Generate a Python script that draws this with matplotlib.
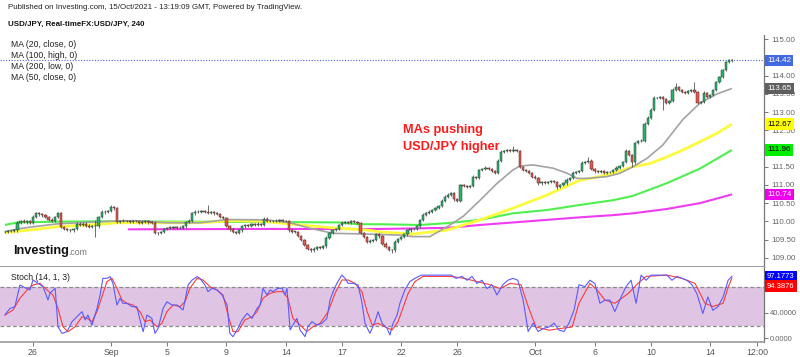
import matplotlib
matplotlib.use("Agg")
import matplotlib.pyplot as plt
import matplotlib.transforms as mtrans
import numpy as np

plt.rcParams['font.family'] = ['Liberation Sans', 'DejaVu Sans']

# ---------------- data ----------------
first_bar = -9          # bar number of the first candle (bar 0 = 26 Aug 00:00)
first_open = 109.70
closes = [
    109.71, 109.73, 109.74, 109.75, 109.96, 110.02, 109.98, 110.00, 109.96, 110.12,
    110.22, 110.19, 110.17, 110.12, 110.05, 110.02, 110.12, 110.22, 109.85, 109.78,
    109.76, 109.75, 109.80, 109.93, 109.90, 109.94, 109.88, 109.84, 109.86, 109.86,
    110.12, 110.25, 110.27, 110.28, 110.39, 110.36, 109.98, 110.00, 110.02, 110.00,
    109.98, 110.01, 110.00, 109.96, 109.98, 110.00, 109.98, 109.96, 109.69, 109.67,
    109.71, 109.80, 109.83, 109.82, 109.84, 109.81, 109.83, 109.86, 109.98, 110.02,
    110.22, 110.27, 110.25, 110.28, 110.27, 110.23, 110.25, 110.22, 110.20, 110.12,
    110.09, 109.88, 109.78, 109.71, 109.69, 109.76, 109.86, 109.90, 109.88, 109.92,
    109.90, 109.93, 109.91, 110.07, 110.02, 110.00, 110.02, 110.00, 110.03, 110.01,
    110.00, 109.75, 109.71, 109.71, 109.59, 109.49, 109.35, 109.25, 109.20, 109.25,
    109.30, 109.28, 109.32, 109.54, 109.67, 109.76, 109.80, 109.90, 109.96, 109.98,
    109.96, 110.00, 109.98, 109.96, 109.69, 109.57, 109.44, 109.47, 109.49, 109.64,
    109.59, 109.39, 109.30, 109.22, 109.20, 109.44, 109.52, 109.57, 109.64, 109.75,
    109.78, 109.80, 109.86, 110.03, 110.17, 110.22, 110.27, 110.31, 110.36, 110.41,
    110.56, 110.67, 110.73, 110.77, 110.60, 110.56, 110.99, 110.96, 110.94, 110.97,
    111.21, 111.18, 111.41, 111.43, 111.47, 111.43, 111.38, 111.33, 111.67, 111.91,
    111.93, 111.96, 111.94, 111.97, 111.93, 111.49, 111.41, 111.38, 111.33, 111.23,
    111.18, 111.04, 111.07, 111.06, 111.09, 111.11, 111.07, 110.94, 110.99, 111.04,
    111.14, 111.18, 111.33, 111.35, 111.38, 111.60, 111.62, 111.67, 111.43, 111.38,
    111.35, 111.37, 111.33, 111.35, 111.36, 111.41, 111.47, 111.52, 111.62, 111.93,
    111.82, 111.62, 112.15, 112.20, 112.22, 112.68, 112.85, 113.07, 113.39, 113.39,
    113.41, 113.36, 113.26, 113.31, 113.60, 113.68, 113.60, 113.55, 113.53, 113.57,
    113.60, 113.55, 113.26, 113.28, 113.53, 113.43, 113.47, 113.60, 113.82, 113.96,
    114.15, 114.37, 114.42, 114.42,
]
# wick lengths in pips (0.01 JPY) above / below the body
upper_wick = [
    3, 3, 2, 4, 5, 3, 4, 3, 3, 5,   4, 5, 3, 3, 4, 3, 4, 5, 3, 3,
    3, 2, 3, 5, 4, 3, 3, 4, 3, 17,  4, 5, 3, 4, 5, 4, 3, 3, 4, 3,
    3, 4, 3, 3, 5, 4, 3, 3, 4, 3,   3, 3, 2, 3, 4, 3, 3, 4, 4, 5,
    5, 4, 3, 4, 3, 19, 4, 3, 3, 3,  3, 3, 3, 3, 2, 3, 4, 3, 3, 3,
    3, 4, 3, 5, 4, 3, 3, 4, 3, 3,   4, 3, 4, 3, 3, 3, 3, 3, 3, 4,
    3, 3, 4, 5, 4, 4, 3, 4, 5, 3,   3, 4, 3, 3, 3, 3, 3, 4, 3, 5,
    3, 3, 3, 3, 3, 4, 3, 3, 4, 4,   3, 3, 4, 4, 5, 3, 4, 3, 4, 4,
    5, 4, 4, 4, 3, 3, 4, 3, 3, 3,   5, 3, 4, 4, 4, 3, 3, 3, 4, 5,
    4, 4, 3, 10, 3, 3, 4, 3, 3, 3,  3, 3, 4, 3, 3, 3, 3, 3, 3, 4,
    4, 3, 4, 3, 4, 5, 4, 10, 3, 3,  3, 4, 3, 3, 3, 4, 4, 4, 5, 6,
    4, 3, 4, 4, 3, 5, 4, 4, 5, 3,   4, 3, 3, 3, 5, 12, 3, 3, 3, 4,
    3, 23, 3, 3, 4, 3, 3, 4, 4, 4,  4, 4, 4, 3,
]
lower_wick = [
    3, 3, 3, 3, 4, 3, 3, 4, 3, 3,   3, 3, 4, 3, 3, 4, 3, 3, 4, 3,
    3, 3, 3, 3, 4, 3, 3, 3, 3, 29,  3, 3, 4, 3, 3, 4, 3, 3, 3, 3,
    3, 3, 3, 4, 3, 3, 4, 3, 5, 4,   3, 3, 3, 3, 3, 3, 3, 3, 4, 3,
    3, 4, 3, 3, 3, 3, 3, 4, 3, 3,   3, 4, 4, 3, 4, 3, 4, 3, 3, 3,
    3, 3, 3, 3, 3, 3, 3, 3, 3, 3,   3, 3, 4, 3, 3, 4, 4, 4, 4, 5,
    4, 3, 3, 4, 3, 3, 3, 3, 3, 3,   3, 3, 3, 3, 4, 4, 4, 3, 3, 3,
    4, 4, 4, 4, 7, 3, 3, 3, 3, 3,   3, 3, 3, 3, 3, 3, 3, 3, 3, 3,
    3, 3, 3, 3, 4, 3, 4, 3, 3, 3,   3, 3, 3, 3, 3, 3, 3, 3, 3, 3,
    3, 3, 3, 3, 3, 3, 4, 3, 3, 3,   3, 4, 3, 3, 3, 3, 3, 5, 3, 3,
    3, 3, 3, 3, 3, 3, 3, 3, 3, 4,   3, 3, 3, 3, 3, 3, 3, 3, 3, 3,
    3, 13, 4, 3, 3, 3, 4, 3, 3, 3,  3, 30, 3, 3, 3, 3, 3, 3, 3, 3,
    3, 3, 4, 3, 3, 3, 3, 3, 3, 3,   3, 3, 3, 3,
]

# moving averages, read at sample bars
ma20_bar = [-9, -4.2, 0, 7.7, 21.5, 32.1, 42.9, 53.5, 62.2, 75, 82.4, 88.8, 96.2, 107, 117.6,
            121.8, 127.2, 132.7, 137.8, 143.3, 148.7, 153.8, 156.1, 160.3, 166.7, 171.2, 174.4,
            177.6, 184, 188.1, 192.3, 196.8, 201.9, 208.3, 213.8, 219.2, 224]
ma20_val = [109.72, 109.80, 109.85, 109.93, 109.99, 110.02, 109.96, 109.96, 110.05, 110.04, 109.96,
            109.81, 109.67, 109.65, 109.62, 109.58, 109.58, 109.85, 110.13, 110.58, 111.04, 111.41,
            111.52, 111.55, 111.46, 111.32, 111.18, 111.18, 111.23, 111.32, 111.50, 111.73, 112.10,
            112.80, 113.25, 113.50, 113.65]
ma50_bar = [-9, 0, 7.7, 21.5, 26.9, 37.5, 53.5, 64.1, 75, 85.6, 96.2, 107, 111.2, 121.8, 132.7,
            143.3, 153.8, 164.7, 175.3, 181.7, 187.2, 192.3, 197.8, 203.2, 208.3, 213.8, 219.2, 224]
ma50_val = [109.69, 109.77, 109.85, 109.92, 109.96, 109.96, 109.96, 110.02, 109.99, 109.90, 109.82,
            109.76, 109.71, 109.65, 109.76, 110.04, 110.36, 110.72, 111.13, 111.23, 111.36, 111.50,
            111.59, 111.77, 111.96, 112.19, 112.42, 112.67]
ma100_bar = [-9, -5, 7.7, 21.5, 53.5, 98.4, 103.8, 111.2, 124, 132.7, 143.3, 153.8, 164.7, 175.3,
             185.9, 192.3, 203.2, 213.8, 224]
ma100_val = [109.90, 109.97, 109.99, 110.00, 109.99, 109.97, 109.92, 109.92, 109.90, 109.95, 110.04,
             110.22, 110.31, 110.45, 110.58, 110.70, 111.05, 111.45, 111.96]
ma200_bar = [30.4, 69.6, 111.2, 132.7, 143.3, 164.7, 175.3, 185.9, 192.3, 203.2, 213.8, 224]
ma200_val = [109.78, 109.79, 109.79, 109.82, 109.90, 110.04, 110.11, 110.17, 110.22, 110.34, 110.50,
             110.74]

# stochastic (14,1,3): %K (blue) and %D (red) read at sample bars
k_bar = [-9.0, -7.4, -5.8, -4.2, -2.6, -1.0, 0.0, 1.6, 3.2, 4.8, 5.4, 7.1, 8.0, 9.3, 10.9, 12.5,
         14.1, 15.7, 16.7, 17.6, 18.9, 20.5, 21.5, 22.4, 23.7, 24.7, 25.6, 26.9, 27.9, 28.8, 30.1,
         31.7, 33.3, 34.3, 35.3, 36.5, 38.1, 39.1, 40.1, 41.7, 42.9, 44.6, 46.2, 48.1, 49.7, 51.0,
         52.6, 53.5, 55.1, 56.1, 57.4, 59.0, 60.6, 62.2, 63.1, 64.1, 65.4, 67.0, 68.6, 70.2, 71.8,
         72.8, 73.7, 75.0, 76.0, 76.9, 78.5, 79.8, 80.8, 81.4, 82.4, 83.3, 84.6, 85.6, 87.2, 88.1,
         89.4, 91.0, 92.6, 94.2, 95.2, 96.2, 97.4, 99.0, 100.0, 101.0, 102.6, 104.2, 105.4, 106.4,
         108.0, 109.6, 110.6, 111.9, 113.5, 114.4, 115.4, 116.7, 117.6, 119.2, 120.8, 122.4, 124.4,
         134.0, 135.6, 137.5, 139.1, 140.7, 142.3, 143.9, 145.5, 147.1, 148.7, 150.6, 152.2, 153.8,
         155.4, 157.1, 158.7, 160.3, 161.9, 163.8, 165.4, 167.0, 168.6, 170.2, 171.8, 173.4, 175.0,
         176.9, 178.5, 180.1, 181.7, 183.3, 184.9, 186.5, 188.5, 190.1, 191.7, 193.3, 194.9, 196.5,
         198.1, 203.2, 204.8, 206.4, 208.0, 209.6, 211.2, 212.8, 214.7, 216.3, 217.9, 219.6, 221.2,
         222.8, 224.0]
k_val = [36.7, 47, 49.7, 83.6, 79.4, 75.8, 91.4, 86.2, 81, 60.2, 70.6, 78.5, 18.4, 8, 10.7, 26.3,
         34, 41.9, 29, 36.7, 21, 47, 67.7, 94, 94, 96.6, 86.2, 52.3, 62.8, 55, 55,
         49.7, 49.7, 29, 10.7, 36.7, 31.5, 8, 15.9, 47, 57.3, 52.3, 52.3, 44.5, 83.6, 91.4,
         96.6, 94, 83.6, 73.2, 78.5, 75.8, 68, 52.3, 8, 2.9, 13.3, 29, 39.3, 31.5, 47,
         52.3, 78.5, 68, 75.8, 73.2, 78.5, 78.5, 68, 78.5, 13.3, 21, 31.5, 13.3, 2.9, 18.4,
         26.3, 21, 23.7, 31.5, 60.2, 73.2, 86.2, 99.2, 94, 86.2, 86.2, 83.6, 57.3, 23.7,
         8, 26.3, 41.9, 23.7, 15.9, 5.5, 23.7, 36.7, 55, 76, 89, 94, 99,
         99, 94, 97, 91, 97, 86, 91, 78, 84, 68, 84, 91, 94,
         91, 60, 11, 24, 11, 16, 18, 24, 13, 11, 24, 44, 84,
         81, 91, 86, 55, 60, 60, 42, 65, 81, 91, 55, 99, 91,
         99, 99, 91, 97, 94, 91, 84, 70, 39, 65, 44, 50, 65,
         91, 97.18]
d_bar = [-9.0, -6.4, -4.2, -1.9, 0.0, 2.2, 4.5, 6.4, 8.0, 9.6, 11.2, 13.5, 15.7, 17.3, 18.9, 20.5,
         22.1, 23.7, 25.3, 26.9, 28.5, 30.1, 32.1, 34.3, 35.9, 37.5, 39.7, 41.3, 42.9, 44.9, 47.1,
         48.7, 50.3, 52.6, 54.5, 56.7, 59.0, 60.9, 62.5, 64.1, 65.7, 67.9, 70.2, 71.8, 73.7, 76.0,
         78.2, 80.1, 81.7, 83.3, 85.6, 87.8, 89.7, 92.0, 94.6, 96.8, 99.0, 101.0, 103.2, 105.4,
         107.1, 108.7, 110.6, 112.8, 115.1, 117.0, 120.2, 122.4, 125.0, 134.0, 138.1, 142.3, 146.5,
         149.7, 152.9, 156.4, 158.7, 161.2, 165.4, 169.6, 172.8, 175.0, 178.5, 180.8, 183.3, 186.5,
         190.7, 193.9, 196.5, 203.2, 208.0, 212.2, 215.4, 217.9, 221.2, 222.8, 224.0]
d_val = [36.7, 44.5, 62.8, 75.8, 83.6, 86.2, 75.8, 68, 47, 18.4, 10.7, 18.4, 34, 31.5, 26.3, 41.9,
         65.4, 88.8, 94, 78.5, 60.2, 55, 52.3, 41.9, 26.3, 28.9, 18.4, 23.7, 41.9, 52.3, 49.7,
         57.3, 78.5, 94, 91.4, 81, 75.8, 68, 36.7, 10.7, 10.7, 29, 34, 41.9, 62.8, 70.6,
         73.2, 73.2, 62.8, 31.5, 21, 10.7, 18.4, 23.7, 41.9, 70.6, 91.4, 91.4, 86.2, 73.2,
         41.9, 21, 23.7, 18.4, 13.3, 26.3, 70, 89, 97, 97, 94, 89, 84,
         78, 86, 84, 50, 18, 13, 16, 18, 55, 86, 76, 60, 55,
         70, 86, 97, 99, 94, 86, 55, 50, 55, 80, 94.39]

tick_bars = [0, 25, 43, 62, 81, 99, 118, 136, 161, 180, 198, 217, 232]
tick_labels = ['26', 'Sep', '5', '9', '14', '17', '22', '26', 'Oct', '6', '10', '14', '12:00']
price_ticks = [109.0, 109.5, 110.0, 110.5, 111.0, 111.5, 112.0, 112.5, 113.0, 113.5, 114.0, 114.5, 115.0]
hidden_price_ticks = [112.0, 114.5]      # covered by the value boxes
last_price = 114.42
ma_last = {'MA20': 113.65, 'MA50': 112.67, 'MA100': 111.96, 'MA200': 110.74}
k_last, d_last = 97.1773, 94.3876

# ---------------- figure ----------------
W, H = 800, 357
fig = plt.figure(figsize=(W / 100, H / 100), dpi=100)
fig.patch.set_facecolor('white')

def px(x0, y0, x1, y1):
    return [x0 / W, 1 - y1 / H, (x1 - x0) / W, (y1 - y0) / H]

ax = fig.add_axes(px(0, 35, 764, 267))
ax2 = fig.add_axes(px(0, 267, 764, 342), sharex=ax)

n = len(closes)
bars = np.arange(first_bar, first_bar + n)
c = np.array(closes)
o = np.array([first_open] + closes[:-1])
uw = np.array(upper_wick[:n] + [3] * max(0, n - len(upper_wick))) / 100.0
lw = np.array(lower_wick[:n] + [3] * max(0, n - len(lower_wick))) / 100.0
top = np.maximum(o, c)
bot = np.minimum(o, c)
hi = top + uw
lo = bot - lw
up = c >= o
body_h = np.maximum(top - bot, 0.012)

ax.vlines(bars, lo, hi, color='#555555', lw=0.6, zorder=3)
ax.bar(bars[up], body_h[up], bottom=bot[up], width=0.72, color='#27b56b',
       edgecolor='#2d3b33', lw=0.35, zorder=4)
ax.bar(bars[~up], body_h[~up], bottom=bot[~up], width=0.72, color='#e4574e',
       edgecolor='#4a2a28', lw=0.35, zorder=4)

ax.plot(ma200_bar, ma200_val, color='#f03cf0', lw=1.5, zorder=2, solid_capstyle='butt')
ax.plot(ma100_bar, ma100_val, color='#4fef4f', lw=1.5, zorder=2, solid_capstyle='butt')
ax.plot(ma50_bar, ma50_val, color='#fbfb3c', lw=2.0, zorder=2, solid_capstyle='butt')
ax.plot(ma20_bar, ma20_val, color='#a3a3a3', lw=1.2, zorder=2, solid_capstyle='butt')

ax.axhline(last_price, color='#4466dd', lw=0.8, ls=(0, (1, 1.5)), zorder=1)

ax.set_xlim(-10.58, 234.3)
ax.set_ylim(108.745, 115.12)
ax.yaxis.tick_right()
ax.set_yticks(price_ticks)
ax.set_yticklabels(['' if t in hidden_price_ticks else '%.2f' % t for t in price_ticks])
ax.tick_params(axis='y', direction='out', length=3, width=0.7, color='#777777',
               labelsize=5.8, labelcolor='#666666', pad=2)
ax.tick_params(axis='x', bottom=False, labelbottom=False)
for s in ['left', 'top']:
    ax.spines[s].set_visible(False)
ax.spines['right'].set_color('#777777')
ax.spines['right'].set_linewidth(0.9)
ax.spines['bottom'].set_color('#9a9a9a')
ax.spines['bottom'].set_linewidth(1.4)

tr = mtrans.blended_transform_factory(ax.transAxes, ax.transData)
def box(a, trans, y, txt, fc, tc, fs=5.9):
    a.text(1.0 + 3.0 / 764, y, txt, transform=trans, ha='left', va='center', fontsize=fs,
           color=tc, clip_on=False, zorder=10,
           bbox=dict(boxstyle='square,pad=0.28', fc=fc, ec='none'))

box(ax, tr, last_price, '%.2f' % last_price, '#4169e1', 'white')
box(ax, tr, ma_last['MA20'], '%.2f' % ma_last['MA20'], '#5f5f5f', 'white')
box(ax, tr, ma_last['MA50'], '%.2f' % ma_last['MA50'], '#ffff00', 'black')
box(ax, tr, ma_last['MA100'], '%.2f' % ma_last['MA100'], '#00ee00', 'black')
box(ax, tr, ma_last['MA200'], '%.2f' % ma_last['MA200'], '#ee00ee', 'white')

# ---------------- stochastic ----------------
ax2.axhspan(20, 80, color='#dfc5e3', zorder=0, lw=0)
ax2.axhline(80, color='#8a8a8a', lw=0.9, ls=(0, (3, 2)), zorder=1)
ax2.axhline(20, color='#8a8a8a', lw=0.9, ls=(0, (3, 2)), zorder=1)
ax2.plot(d_bar, d_val, color='#ff3b3b', lw=0.8, zorder=3)
ax2.plot(k_bar, k_val, color='#5a5aff', lw=0.8, zorder=4)
ax2.set_ylim(-5.47, 111.7)
ax2.yaxis.tick_right()
ax2.set_yticks([0, 40, 80])
ax2.set_yticklabels(['0.0000', '40.0000', ''])
ax2.tick_params(axis='y', direction='out', length=3, width=0.7, color='#777777',
                labelsize=5.5, labelcolor='#666666', pad=1.5)
ax2.set_xticks(tick_bars)
ax2.set_xticklabels(tick_labels)
ax2.tick_params(axis='x', direction='out', length=3, width=0.7, color='#777777',
                labelsize=6.3, labelcolor='#555555', pad=1.5)
for s in ['left', 'top']:
    ax2.spines[s].set_visible(False)
ax2.spines['right'].set_color('#777777')
ax2.spines['right'].set_linewidth(0.9)
ax2.spines['bottom'].set_color('#9a9a9a')
ax2.spines['bottom'].set_linewidth(1.2)

tr2 = mtrans.blended_transform_factory(ax2.transAxes, ax2.transData)
box(ax2, tr2, k_last, '%.4f' % k_last, '#0000ff', 'white', fs=5.5)
tr2d = mtrans.offset_copy(tr2, fig=fig, x=0, y=-8, units='dots')
box(ax2, tr2d, d_last, '%.4f' % d_last, '#ff0000', 'white', fs=5.5)

# ---------------- texts ----------------
def ftext(x, y, s, **kw):
    fig.text(x / W, 1 - y / H, s, va='center', ha='left', **kw)

ftext(8, 7.5, 'Published on Investing.com, 15/Oct/2021 - 13:19:09 GMT, Powered by TradingView.',
      fontsize=5.65, color='#222222')
ftext(8, 24, 'USD/JPY, Real-timeFX:USD/JPY, 240', fontsize=5.7, color='#111111', fontweight='bold')
for yy, s in zip([44.5, 55.5, 66.5, 77.5],
                 ['MA (20, close, 0)', 'MA (100, high, 0)', 'MA (200, low, 0)', 'MA (50, close, 0)']):
    ftext(11, yy, s, fontsize=6.2, color='#222222')
ftext(403, 130, 'MAs pushing', fontsize=9.2, color='#ff1a1a', fontweight='bold')
ftext(403, 147, 'USD/JPY higher', fontsize=9.2, color='#ff1a1a', fontweight='bold')
ftext(11, 277, 'Stoch (14, 1, 3)', fontsize=6.2, color='#222222')
ftext(13, 251, 'Investing', fontsize=9.2, color='#111111', fontweight='bold')
ftext(68, 252.5, '.com', fontsize=6.3, color='#777777')

fig.savefig('out.png', dpi=100, facecolor='white')
